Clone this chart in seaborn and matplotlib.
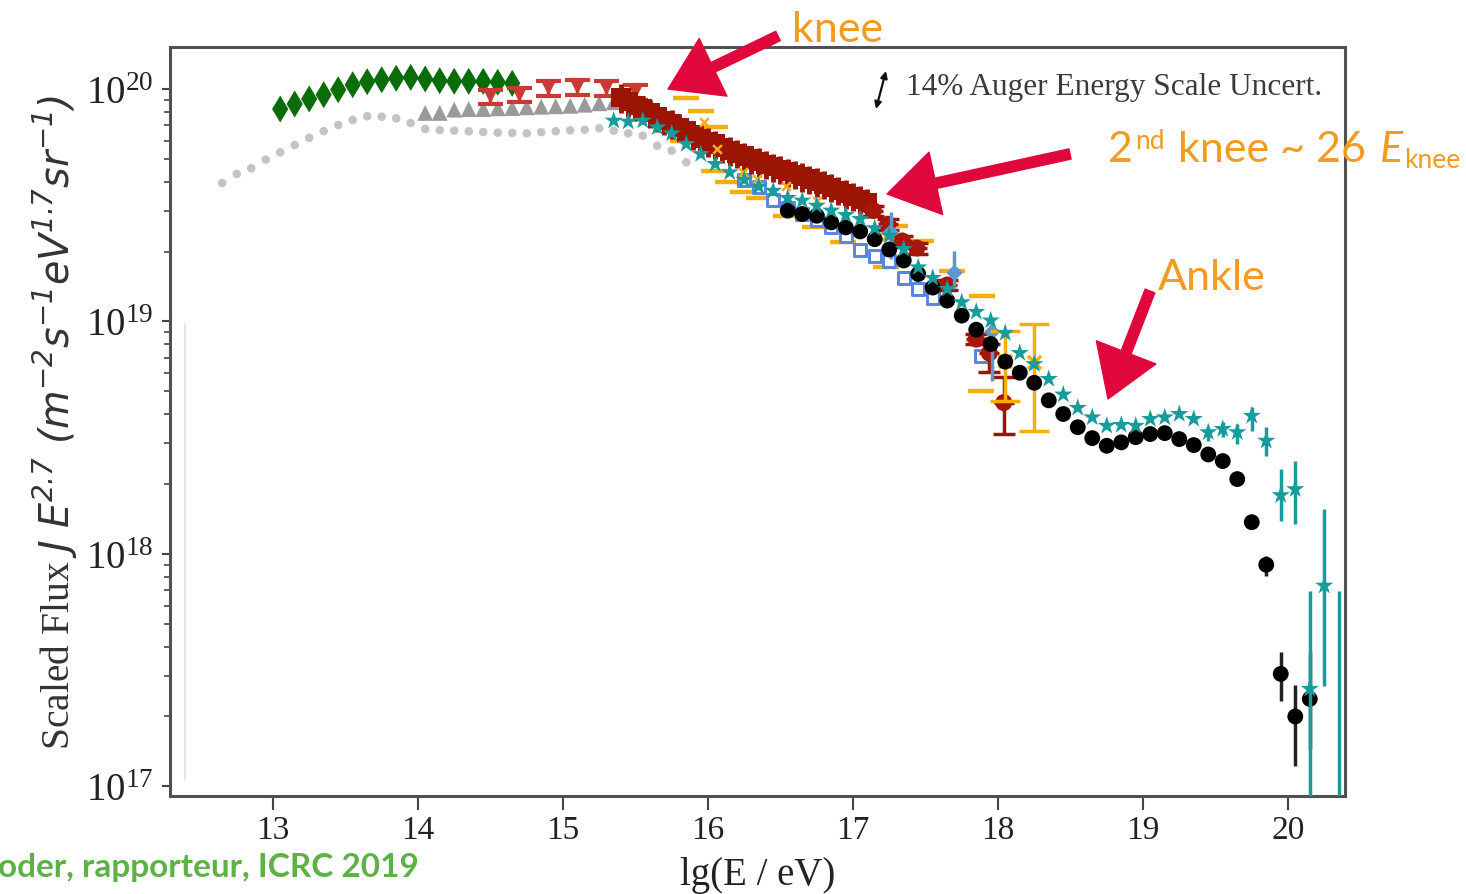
import matplotlib
matplotlib.use("Agg")
import matplotlib.pyplot as plt
import matplotlib.transforms as mtransforms
from matplotlib.lines import Line2D
from matplotlib.ticker import LogLocator, NullFormatter, FixedLocator
import numpy as np
import seaborn as sns

# ---------------- data (lg(E/eV), scaled flux J*E^2.7) ----------------
gray_dots_lgE = [12.65, 12.75, 12.85, 12.95, 13.05, 13.15, 13.25, 13.35, 13.45, 13.55, 13.65,
                 13.75, 13.85, 13.95, 14.05, 14.15, 14.25, 14.35, 14.45, 14.55, 14.65, 14.75,
                 14.85, 14.95, 15.05, 15.15, 15.25, 15.35, 15.45, 15.55, 15.65, 15.75, 15.85]
gray_dots_flux = [3.94e19, 4.31e19, 4.56e19, 4.97e19, 5.34e19, 5.74e19, 6.17e19, 6.59e19, 7.00e19,
                  7.36e19, 7.63e19, 7.60e19, 7.48e19, 7.14e19, 6.73e19, 6.66e19, 6.62e19, 6.58e19,
                  6.53e19, 6.49e19, 6.47e19, 6.45e19, 6.52e19, 6.58e19, 6.64e19, 6.68e19, 6.78e19,
                  6.62e19, 6.45e19, 6.30e19, 5.70e19, 5.43e19, 4.84e19]

green_lgE = [13.05, 13.15, 13.25, 13.35, 13.45, 13.55, 13.65, 13.75, 13.85, 13.95, 14.05,
             14.15, 14.25, 14.35, 14.45, 14.55, 14.65]
green_flux = [8.20e19, 8.62e19, 9.06e19, 9.45e19, 9.93e19, 10.43e19, 10.75e19, 10.96e19, 11.12e19,
              11.22e19, 11.04e19, 10.86e19, 10.79e19, 10.79e19, 10.79e19, 10.69e19, 10.58e19]

tri_lgE = [14.05, 14.15, 14.25, 14.35, 14.45, 14.55, 14.65, 14.75, 14.85, 14.95, 15.05, 15.15, 15.25, 15.35]
tri_flux = [7.89e19, 7.89e19, 8.15e19, 8.20e19, 8.20e19, 8.26e19, 8.28e19, 8.34e19, 8.39e19,
            8.43e19, 8.47e19, 8.56e19, 8.68e19, 8.77e19]

red_lgE = [14.5, 14.7, 14.9, 15.1, 15.3, 15.5]
red_flux = [9.30e19, 9.42e19, 10.07e19, 10.17e19, 10.07e19, 9.68e19]

band_lgE = [15.40, 15.45, 15.50, 15.55, 15.60, 15.65, 15.70, 15.75, 15.80, 15.85, 15.90, 15.95,
            16.00, 16.05, 16.10, 16.15, 16.20, 16.25, 16.30, 16.35, 16.40, 16.45, 16.50, 16.55,
            16.60, 16.65, 16.70, 16.75, 16.80, 16.85, 16.90, 16.95, 17.00, 17.05, 17.10]
band_flux = [9.2e19, 8.85e19, 8.5e19, 8.2e19, 7.9e19, 7.6e19, 7.35e19, 7.1e19, 6.85e19, 6.6e19,
             6.35e19, 6.15e19, 5.95e19, 5.8e19, 5.6e19, 5.45e19, 5.3e19, 5.15e19, 5.0e19, 4.87e19,
             4.75e19, 4.63e19, 4.52e19, 4.4e19, 4.3e19, 4.2e19, 4.1e19, 4.0e19, 3.9e19, 3.78e19,
             3.67e19, 3.56e19, 3.46e19, 3.36e19, 3.25e19]

dred_lgE = [17.14, 17.24, 17.34, 17.44, 17.65, 17.85, 17.94, 18.04]
dred_flux = [3.00e19, 2.62e19, 2.22e19, 2.07e19, 1.435e19, 0.84e19, 0.732e19, 0.448e19]
dred_lo = [2.85e19, 2.48e19, 2.10e19, 1.96e19, 1.36e19, 0.80e19, 0.606e19, 0.328e19]
dred_hi = [3.15e19, 2.76e19, 2.34e19, 2.18e19, 1.51e19, 0.88e19, 0.80e19, 0.577e19]

blue_lgE = [16.25, 16.35, 16.45, 16.55, 16.65, 16.75, 16.85, 16.95, 17.05, 17.15, 17.25,
            17.35, 17.45, 17.55, 17.88]
blue_flux = [4.07e19, 3.79e19, 3.33e19, 3.08e19, 2.90e19, 2.73e19, 2.55e19, 2.33e19, 2.03e19,
             1.92e19, 1.82e19, 1.54e19, 1.38e19, 1.26e19, 0.711e19]

steel_lgE = [17.26, 17.70, 17.96]
steel_flux = [2.42e19, 1.62e19, 0.902e19]
steel_lo = [1.86e19, 1.38e19, 0.555e19]
steel_hi = [2.96e19, 2.01e19, 1.046e19]

ta_lgE = [15.35, 15.45, 15.55, 15.65, 15.75, 15.85, 15.95, 16.05, 16.15, 16.25, 16.35, 16.45,
          16.55, 16.65, 16.75, 16.85, 16.95, 17.05, 17.15, 17.25, 17.35, 17.45, 17.55, 17.65,
          17.75, 17.85, 17.95, 18.05, 18.15, 18.25, 18.35, 18.45, 18.55, 18.65, 18.75, 18.85,
          18.95, 19.05, 19.15, 19.25, 19.35, 19.45, 19.55, 19.65, 19.75, 19.85, 19.95, 20.05,
          20.15, 20.25, 20.35]
ta_flux = [7.31e19, 7.24e19, 7.31e19, 6.84e19, 6.44e19, 5.80e19, 5.25e19, 4.76e19, 4.38e19,
           4.07e19, 3.81e19, 3.65e19, 3.40e19, 3.31e19, 3.15e19, 3.00e19, 2.87e19, 2.76e19,
           2.52e19, 2.34e19, 2.05e19, 1.71e19, 1.54e19, 1.38e19, 1.21e19, 1.10e19, 1.01e19,
           8.92e18, 7.32e18, 6.56e18, 5.66e18, 4.85e18, 4.25e18, 3.87e18, 3.56e18, 3.59e18,
           3.56e18, 3.81e18, 3.87e18, 4.00e18, 3.81e18, 3.34e18, 3.45e18, 3.34e18, 3.93e18,
           3.07e18, 1.79e18, 1.90e18, 2.63e17, 7.31e17, 7.0e16]
ta_err_lgE = [19.45, 19.55, 19.65, 19.75, 19.85, 19.95, 20.05, 20.15, 20.25, 20.35]
ta_err_val = [3.34e18, 3.45e18, 3.34e18, 3.93e18, 3.07e18, 1.79e18, 1.90e18, 2.63e17, 7.31e17, 7.0e16]
ta_err_lo = [3.06e18, 3.18e18, 2.97e18, 3.38e18, 2.64e18, 1.39e18, 1.35e18, 8.0e16, 2.71e17, 5.0e16]
ta_err_hi = [3.52e18, 3.69e18, 3.62e18, 4.29e18, 3.52e18, 2.32e18, 2.51e18, 6.93e17, 1.56e18, 6.93e17]

auger_lgE = [16.55, 16.65, 16.75, 16.85, 16.95, 17.05, 17.15, 17.25, 17.35, 17.45, 17.55, 17.65,
             17.75, 17.85, 17.95, 18.05, 18.15, 18.25, 18.35, 18.45, 18.55, 18.65, 18.75, 18.85,
             18.95, 19.05, 19.15, 19.25, 19.35, 19.45, 19.55, 19.65, 19.75, 19.85, 19.95, 20.05, 20.15]
auger_flux = [3.00e19, 2.90e19, 2.85e19, 2.67e19, 2.54e19, 2.44e19, 2.26e19, 2.04e19, 1.83e19,
              1.60e19, 1.40e19, 1.23e19, 1.06e19, 9.22e18, 8.00e18, 6.72e18, 6.02e18, 5.45e18,
              4.58e18, 4.00e18, 3.51e18, 3.15e18, 2.92e18, 3.02e18, 3.18e18, 3.28e18, 3.31e18,
              3.12e18, 2.94e18, 2.68e18, 2.51e18, 2.10e18, 1.37e18, 8.99e17, 3.05e17, 2.00e17, 2.38e17]
auger_err_lgE = [19.85, 19.95, 20.05, 20.15]
auger_err_val = [8.99e17, 3.05e17, 2.00e17, 2.38e17]
auger_err_lo = [8.07e17, 2.33e17, 1.23e17, 1.45e17]
auger_err_hi = [9.83e17, 3.79e17, 2.74e17, 3.79e17]

dash_lgE = [15.85, 15.95, 16.05, 15.83, 16.04, 16.14, 16.24, 16.35, 16.54, 16.74, 16.93, 17.23,
            17.29, 17.47, 17.68, 17.89, 17.88]
dash_flux = [9.15e19, 8.04e19, 6.84e19, 5.99e19, 4.44e19, 3.97e19, 3.59e19, 3.40e19, 2.83e19,
             2.54e19, 2.19e19, 1.71e19, 2.58e19, 2.23e19, 1.65e19, 1.29e19, 5.04e18]

ox_lgE = [15.97, 16.06, 16.24, 16.34, 16.54, 16.75, 17.23]
ox_flux = [7.21e19, 5.52e19, 4.40e19, 4.10e19, 3.83e19, 3.30e19, 2.33e19]

obar_lgE = [18.05, 18.25]
obar_flux = [6.78e18, 6.69e18]
obar_lo = [4.56e18, 3.39e18]
obar_hi = [9.13e18, 9.75e18]

x_ticks = [13, 14, 15, 16, 17, 18, 19, 20]

# ---------------- style ----------------
sns.set_theme(style="white")
plt.rcParams.update({
    "font.family": ["Liberation Serif", "DejaVu Serif"],
    "mathtext.fontset": "custom",
    "mathtext.rm": "Liberation Serif",
    "mathtext.it": "DejaVu Sans:italic",
    "mathtext.sf": "DejaVu Sans:italic",
    "axes.unicode_minus": False,
})

ORANGE_TXT = "#f39b21"
ARROW_RED = "#e0073d"
TEAL = "#169c9a"
DRED = "#9c1402"
LRED = "#c83a33"
ORANGE = "#f7ad0c"
BLUE = "#5b86e0"
STEEL = "#5b98cf"

W, H = 1466, 895
fig = plt.figure(figsize=(W / 100, H / 100), dpi=100)
ax = fig.add_axes([170 / W, 1 - 797 / H, (1345 - 170) / W, (797 - 48) / H])
ax.set_yscale("log")
ax.set_xlim(12.29, 20.393)
ax.set_ylim(9.1e16, 1.516e20)

# gray dots & triangles
sns.scatterplot(x=gray_dots_lgE, y=gray_dots_flux, ax=ax, marker="o", s=38, color="#c4c4c4",
                edgecolor="none", legend=False, zorder=2)
sns.scatterplot(x=tri_lgE, y=tri_flux, ax=ax, marker="^", s=130, color="#9a9a9a",
                edgecolor="none", legend=False, zorder=2)
sns.scatterplot(x=green_lgE, y=green_flux, ax=ax, marker="d", s=190, color="#0a6d0a",
                edgecolor="none", legend=False, zorder=3)

# red inverted triangles
ax.errorbar(red_lgE, red_flux, yerr=[np.array(red_flux) * 0.07, np.array(red_flux) * 0.07],
            fmt="none", ecolor=LRED, elinewidth=2.5, capsize=9, capthick=3, zorder=3)
sns.scatterplot(x=red_lgE, y=red_flux, ax=ax, marker="v", s=110, color=LRED,
                edgecolor="none", legend=False, zorder=3)

# orange dashes
sns.scatterplot(x=dash_lgE, y=dash_flux, ax=ax, marker="_", s=330, color=ORANGE,
                linewidth=3.2, legend=False, zorder=3)

# blue open squares
bf = np.array(blue_flux)
ax.errorbar(blue_lgE, blue_flux, yerr=[bf * 0.03, bf * 0.03], fmt="none", ecolor=BLUE,
            elinewidth=1.8, zorder=3)
sns.scatterplot(x=blue_lgE, y=blue_flux, ax=ax, marker="s", s=80, facecolor="white",
                edgecolor=BLUE, linewidth=2.2, legend=False, zorder=3)

# dark red band
bnd = np.array(band_flux)
ax.errorbar(band_lgE, band_flux, xerr=0.05, yerr=[bnd * 0.14, bnd * 0.14], fmt="none",
            ecolor=DRED, elinewidth=3.5, zorder=4)
sns.scatterplot(x=band_lgE, y=band_flux, ax=ax, marker="s", s=190, color=DRED,
                edgecolor="none", legend=False, zorder=4)
sns.scatterplot(x=ox_lgE, y=ox_flux, ax=ax, marker="x", s=40, color=ORANGE,
                linewidth=1.8, legend=False, zorder=5)

# dark red circles
dfl = np.array(dred_flux)
ax.errorbar(dred_lgE, dred_flux, xerr=0.07, fmt="none", ecolor=DRED, elinewidth=2.5, zorder=4)
ax.errorbar(dred_lgE, dred_flux, yerr=[dfl - np.array(dred_lo), np.array(dred_hi) - dfl],
            fmt="none", ecolor=DRED, elinewidth=2.5, capsize=8, capthick=2.5, zorder=4)
sns.scatterplot(x=dred_lgE, y=dred_flux, ax=ax, marker="o", s=150, color="#a8150a",
                edgecolor="none", legend=False, zorder=4)

# steel blue diamonds
sf = np.array(steel_flux)
ax.errorbar(steel_lgE, steel_flux, yerr=[sf - np.array(steel_lo), np.array(steel_hi) - sf],
            fmt="none", ecolor=STEEL, elinewidth=2.5, zorder=5)
sns.scatterplot(x=steel_lgE, y=steel_flux, ax=ax, marker="D", s=70, color=STEEL,
                edgecolor="none", legend=False, zorder=5)

# orange crosses with large error bars
of = np.array(obar_flux)
ax.errorbar(obar_lgE, obar_flux, yerr=[of - np.array(obar_lo), np.array(obar_hi) - of],
            fmt="none", ecolor=ORANGE, elinewidth=2.5, capsize=11, capthick=2.5, zorder=5)
sns.scatterplot(x=obar_lgE, y=obar_flux, ax=ax, marker="x", s=90, color=ORANGE,
                linewidth=2.5, legend=False, zorder=5)

# Auger (black)
af = np.array(auger_err_val)
ax.errorbar(auger_err_lgE, auger_err_val, yerr=[af - np.array(auger_err_lo), np.array(auger_err_hi) - af],
            fmt="none", ecolor="#222222", elinewidth=2.5, zorder=6)
sns.scatterplot(x=auger_lgE, y=auger_flux, ax=ax, marker="o", s=130, color="black",
                edgecolor="none", legend=False, zorder=6)

# TA (teal stars)
tf = np.array(ta_err_val)
ax.errorbar(ta_err_lgE, ta_err_val, yerr=[tf - np.array(ta_err_lo), np.array(ta_err_hi) - tf],
            fmt="none", ecolor=TEAL, elinewidth=2.5, zorder=7)
sns.scatterplot(x=ta_lgE, y=ta_flux, ax=ax, marker="*", s=190, color=TEAL,
                edgecolor="none", legend=False, zorder=7)

# ---------------- axes cosmetics ----------------
for sp in ax.spines.values():
    sp.set_color("#505050")
    sp.set_linewidth(2.2)
ax.xaxis.set_major_locator(FixedLocator(x_ticks))
ax.set_xticklabels([str(t) for t in x_ticks])
ax.yaxis.set_major_locator(LogLocator(base=10, numticks=10))
ax.yaxis.set_minor_locator(LogLocator(base=10, subs=np.arange(2, 10), numticks=20))
ax.yaxis.set_minor_formatter(NullFormatter())
ax.tick_params(axis="x", which="major", direction="out", length=10, width=1.5, color="#444444",
               labelsize=24, pad=3, labelcolor="#222222", bottom=True, top=False)
ax.tick_params(axis="y", which="major", direction="out", length=6, width=1.5, color="#444444",
               labelsize=28, pad=6, labelcolor="#222222", left=True, right=False)
ax.tick_params(axis="y", which="minor", direction="out", length=4, width=1.2, color="#444444",
               left=True, right=False)
ax.set_xlabel("lg(E / eV)", fontsize=28, color="#222222", labelpad=8)
ax.set_ylabel(r"Scaled Flux $\mathsf{J\ E^{2.7}\ (m^{-2}s^{-1}eV^{1.7}sr^{-1})}$",
              fontsize=28.5, color="#333333", labelpad=4)
ax.grid(False)

ident = mtransforms.IdentityTransform()

# faint scan line
fig.add_artist(Line2D([185, 185], [H - 780, H - 325], transform=ident, color="#e4e4e4", lw=1.5))

# energy-scale annotation
fig.text(906, H - 88, "14% Auger Energy Scale Uncert.", transform=ident, fontsize=22.5,
         color="#3a3a3a", ha="left", va="center", family="Liberation Serif")
ax.annotate("", xy=(886, H - 72), xytext=(876, H - 110), xycoords=ident, textcoords=ident,
            arrowprops=dict(arrowstyle="<|-|>", color="#111111", lw=1.6, mutation_scale=10,
                            shrinkA=0, shrinkB=0), annotation_clip=False)

# big red arrows
for tail, tip in [((778, H - 37), (668, H - 90)),
                  ((1070, H - 155), (887, H - 195)),
                  ((1150, H - 292), (1108, H - 400))]:
    ax.annotate("", xy=tip, xytext=tail, xycoords=ident, textcoords=ident,
                arrowprops=dict(arrowstyle="simple,head_length=3.6,head_width=4.6,tail_width=0.75",
                                color=ARROW_RED, mutation_scale=10, shrinkA=0, shrinkB=0),
                annotation_clip=False, zorder=10)

# orange labels
fig.text(838, H - 30, "knee", transform=ident, fontsize=31, color=ORANGE_TXT, ha="center",
         va="center", family="Lato")
fig.text(1212, H - 278, "Ankle", transform=ident, fontsize=31, color=ORANGE_TXT, ha="center",
         va="center", family="Lato")

renderer = fig.canvas.get_renderer()
x = 1108
base = H - 162
for s, size, style, dy, gap in [("2", 31, "normal", 0, 2), ("nd", 19, "normal", 13, 14),
                                ("knee ~ 26", 31, "normal", 0, 14), ("E", 31, "italic", 0, 1),
                                ("knee", 19, "normal", -6, 0)]:
    t = fig.text(x, base + dy, s, transform=ident, fontsize=size, fontstyle=style,
                 color=ORANGE_TXT, ha="left", va="baseline", family="Lato")
    bb = t.get_window_extent(renderer=renderer)
    x = bb.x1 + gap

# footer credit
fig.text(-2, H - 868, "oder, rapporteur, ICRC 2019", transform=ident, fontsize=24,
         fontweight="bold", color="#5db246", ha="left", va="center", family="Lato")

fig.savefig("out.png", dpi=100)
